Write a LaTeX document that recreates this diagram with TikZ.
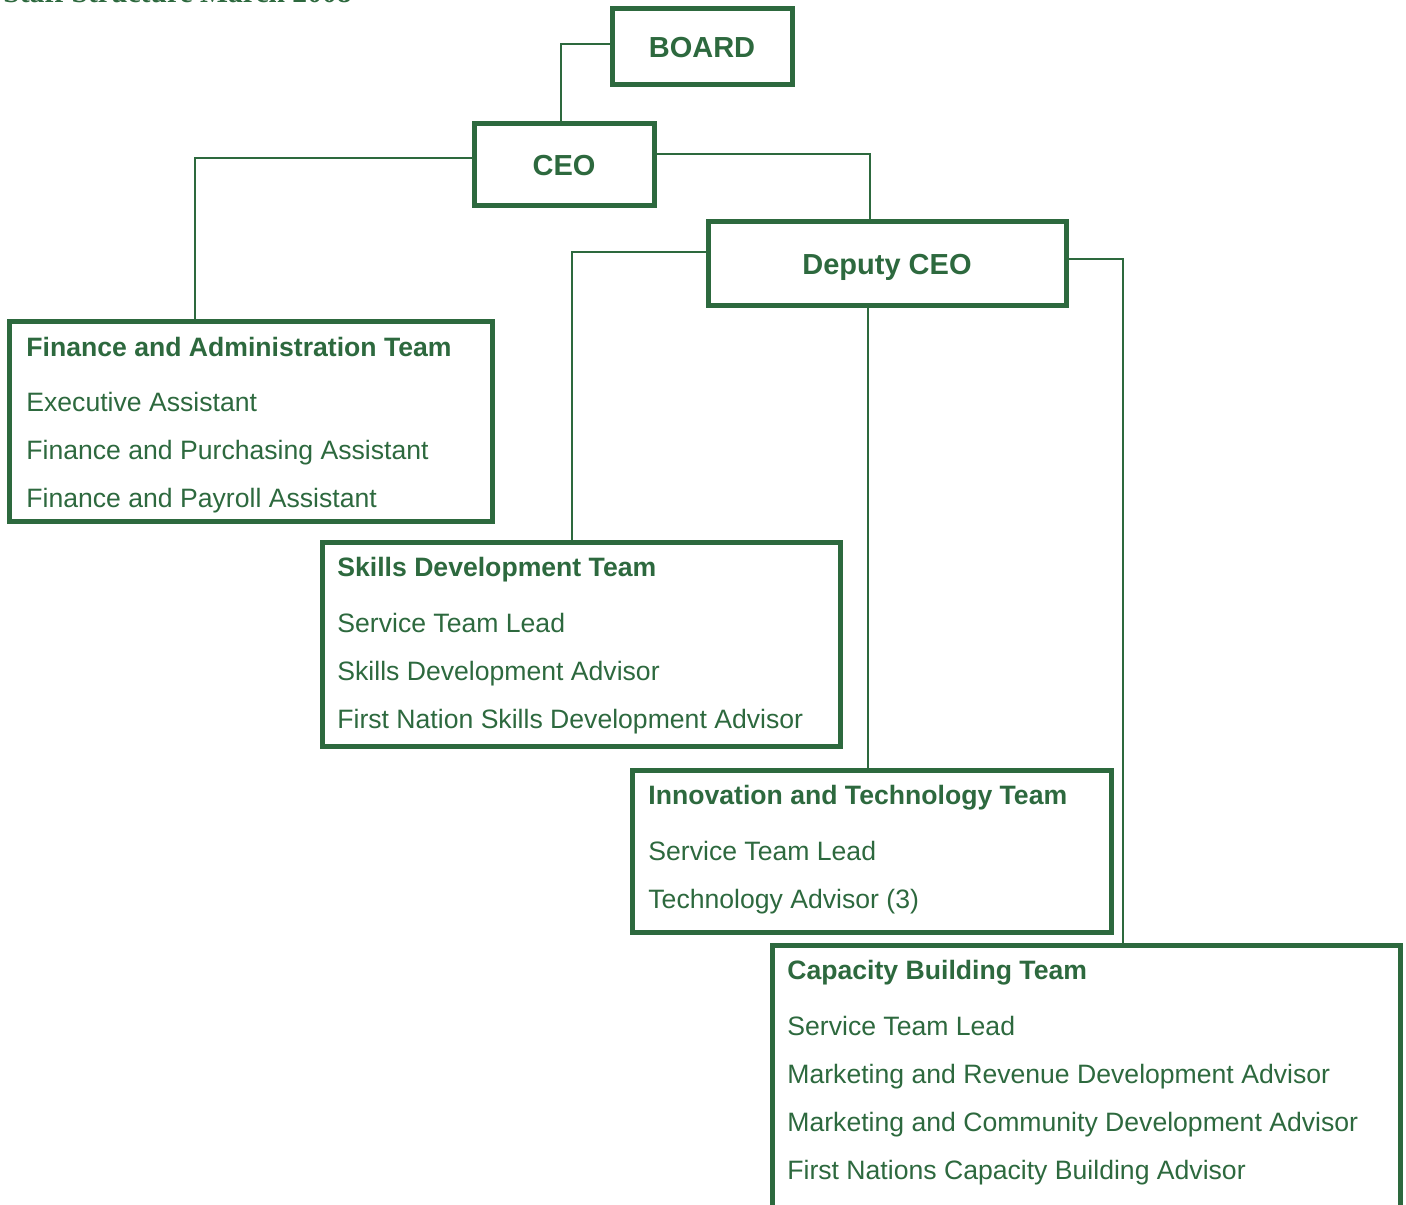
\documentclass[tikz,border=0pt]{standalone}
\usepackage{fontspec}
\setmainfont{Liberation Sans}
\newfontfamily\serifttl{Liberation Serif}
\definecolor{org}{RGB}{45,105,62}
\begin{document}
\begin{tikzpicture}[x=0.5pt,y=-0.5pt,
  box/.style={draw=org, line width=2.5pt, rectangle, inner sep=0pt},
  conn/.style={draw=org, line width=1.1pt},
  head/.style={anchor=base, inner sep=0pt, text=org, font=\fontsize{14.5}{17}\selectfont\bfseries},
  ttl/.style={anchor=base west, inner sep=0pt, text=org, font=\fontsize{13.3}{16}\selectfont\bfseries},
  itm/.style={anchor=base west, inner sep=0pt, text=org, font=\fontsize{13.3}{16}\selectfont}]
\useasboundingbox (0,0) rectangle (1406,1204);
\begin{scope}
\clip (0,0) rectangle (1406,1204);
\node[anchor=base west, inner sep=0pt, text=org, font=\serifttl\bfseries\fontsize{14.8}{17}\selectfont] (title) at (3,3) {Staff Structure March 2008};

% boxes
\node[box, minimum width=90pt, minimum height=38pt] (board) at (702,47) {};
\node[box, minimum width=90pt, minimum height=41pt] (ceo) at (564,164) {};
\node[box, minimum width=179pt, minimum height=42pt] (dep) at (887,263) {};
\node[box, minimum width=241.5pt, minimum height=100pt] (fin) at (251,421) {};
\node[box, minimum width=259pt, minimum height=102pt] (skl) at (581,644) {};
\node[box, minimum width=239.5pt, minimum height=81pt] (inn) at (871.5,851) {};
\node[box, minimum width=314pt, minimum height=135pt] (cap) at (1086,1080) {};

% headings
\node[head] (boardt) at (702,58) {BOARD};
\node[head] (ceot) at (564,175) {CEO};
\node[head] (dept) at (887,274) {Deputy CEO};

% finance
\node[ttl] (fin0) at (26,356) {Finance and Administration Team};
\node[itm] (fin1) at (26,411) {Executive Assistant};
\node[itm] (fin2) at (26,459) {Finance and Purchasing Assistant};
\node[itm] (fin3) at (26,507) {Finance and Payroll Assistant};

% skills
\node[ttl] (skl0) at (337,576) {Skills Development Team};
\node[itm] (skl1) at (337,632) {Service Team Lead};
\node[itm] (skl2) at (337,680) {Skills Development Advisor};
\node[itm] (skl3) at (337,728) {First Nation Skills Development Advisor};

% innovation
\node[ttl] (inn0) at (648,804) {Innovation and Technology Team};
\node[itm] (inn1) at (648,860) {Service Team Lead};
\node[itm] (inn2) at (648,908) {Technology Advisor (3)};

% capacity
\node[ttl] (cap0) at (787,979) {Capacity Building Team};
\node[itm] (cap1) at (787,1035) {Service Team Lead};
\node[itm] (cap2) at (787,1083) {Marketing and Revenue Development Advisor};
\node[itm] (cap3) at (787,1131) {Marketing and Community Development Advisor};
\node[itm] (cap4) at (787,1179) {First Nations Capacity Building Advisor};

% connectors
\coordinate (jb) at (561,44);
\coordinate (jf) at (195,158);
\coordinate (jd) at (870,154);
\coordinate (js) at (572,252);
\coordinate (ji) at (868,0);
\coordinate (jc) at (1123,259);
\draw[conn] (board.west |- jb) -| (ceo.north -| jb);
\draw[conn] (ceo.west |- jf) -| (fin.north -| jf);
\draw[conn] (ceo.east |- jd) -| (dep.north -| jd);
\draw[conn] (dep.west |- js) -| (skl.north -| js);
\draw[conn] (dep.south -| ji) -- (inn.north -| ji);
\draw[conn] (dep.east |- jc) -| (cap.north -| jc);
\end{scope}
\end{tikzpicture}
\end{document}
